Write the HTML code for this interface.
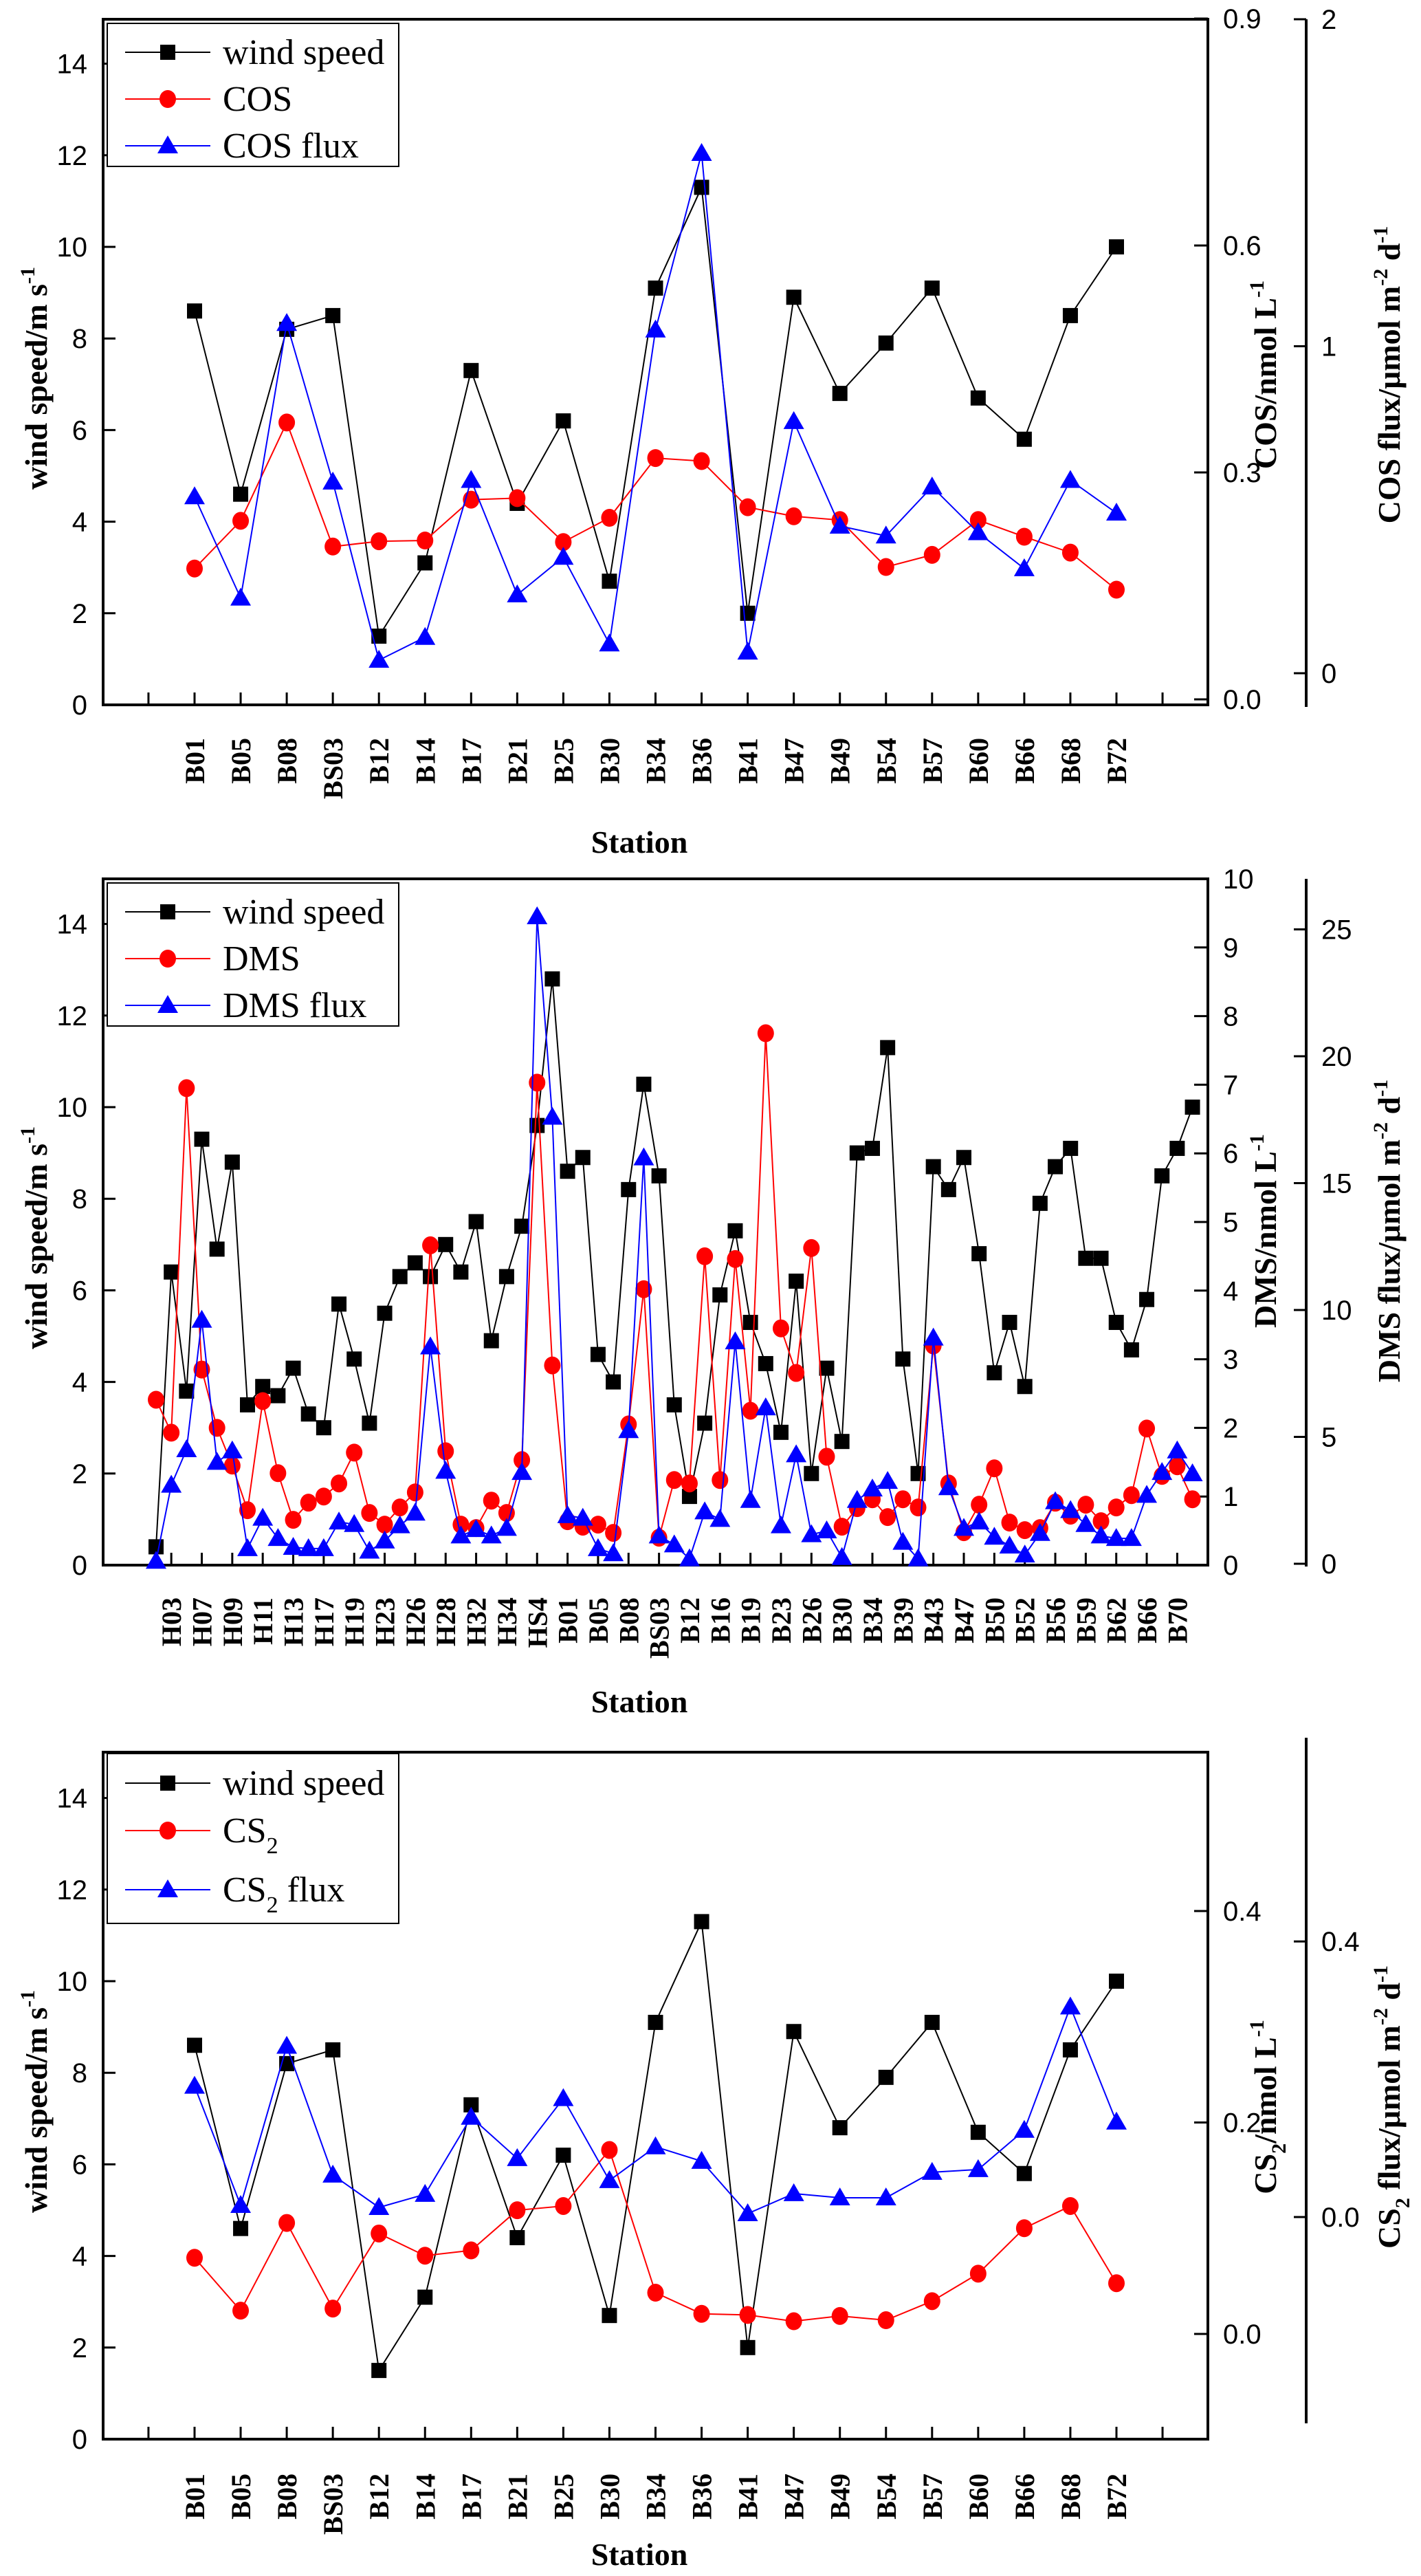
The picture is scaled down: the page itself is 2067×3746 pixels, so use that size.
<!DOCTYPE html>
<html><head><meta charset="utf-8"><style>
html,body{margin:0;padding:0;background:#fff;}
svg{display:block;}
.tk{font-family:"Liberation Sans",sans-serif;font-size:40px;fill:#000;}
.st{font-family:"Liberation Serif",serif;font-size:40px;font-weight:bold;fill:#000;}
.ti{font-family:"Liberation Serif",serif;font-size:46px;font-weight:bold;fill:#000;}
.lg{font-family:"Liberation Serif",serif;font-size:52px;fill:#000;}
</style></head><body>
<svg id="chart" width="2067" height="3746" viewBox="0 0 2067 3746" xmlns="http://www.w3.org/2000/svg"></svg>
<script>
// ---- Panel 1 / 3 data ----
const stationsA = ["B01","B05","B08","BS03","B12","B14","B17","B21","B25","B30","B34","B36","B41","B47","B49","B54","B57","B60","B66","B68","B72"];
const windA = [8.6,4.6,8.2,8.5,1.5,3.1,7.3,4.4,6.2,2.7,9.1,11.3,2.0,8.9,6.8,7.9,9.1,6.7,5.8,8.5,10.0];
const cosVals = [0.173,0.236,0.366,0.202,0.209,0.21,0.264,0.266,0.208,0.24,0.319,0.315,0.254,0.242,0.237,0.175,0.191,0.237,0.215,0.194,0.145];
const cosFlux = [0.54,0.23,1.07,0.585,0.04,0.11,0.59,0.24,0.355,0.09,1.05,1.59,0.065,0.77,0.45,0.42,0.57,0.43,0.32,0.59,0.49];
const cs2Vals = [0.072,0.022,0.105,0.024,0.095,0.074,0.079,0.117,0.121,0.174,0.039,0.019,0.018,0.012,0.017,0.013,0.031,0.057,0.1,0.121,0.048];
const cs2Flux = [0.19,0.017,0.248,0.061,0.014,0.033,0.145,0.085,0.172,0.053,0.102,0.081,0.005,0.034,0.028,0.028,0.065,0.069,0.126,0.305,0.138];
// ---- Panel 2 data ----
const stationsB = ["","H03","","H07","","H09","","H11","","H13","","H17","","H19","","H23","","H26","","H28","","H32","","H34","","HS4","","B01","","B05","","B08","","BS03","","B12","","B16","","B19","","B23","","B26","","B30","","B34","","B39","","B43","","B47","","B50","","B52","","B56","","B59","","B62","","B66","","B70",""];
const windB = [0.4,6.4,3.8,9.3,6.9,8.8,3.5,3.9,3.7,4.3,3.3,3.0,5.7,4.5,3.1,5.5,6.3,6.6,6.3,7.0,6.4,7.5,4.9,6.3,7.4,9.6,12.8,8.6,8.9,4.6,4.0,8.2,10.5,8.5,3.5,1.5,3.1,5.9,7.3,5.3,4.4,2.9,6.2,2.0,4.3,2.7,9.0,9.1,11.3,4.5,2.0,8.7,8.2,8.9,6.8,4.2,5.3,3.9,7.9,8.7,9.1,6.7,6.7,5.3,4.7,5.8,8.5,9.1,10.0];
const dmsVals = [2.41,1.93,6.95,2.85,2.0,1.45,0.8,2.39,1.34,0.66,0.91,1.0,1.19,1.64,0.76,0.59,0.84,1.06,4.66,1.66,0.59,0.54,0.94,0.76,1.53,7.03,2.91,0.64,0.56,0.59,0.47,2.05,4.02,0.4,1.24,1.19,4.5,1.24,4.46,2.25,7.75,3.45,2.8,4.62,1.58,0.56,0.83,0.96,0.7,0.96,0.84,3.2,1.19,0.48,0.88,1.41,0.62,0.51,0.54,0.91,0.72,0.88,0.64,0.84,1.02,1.99,1.3,1.44,0.96];
const dmsFlux = [0.1,3.1,4.5,9.6,4.0,4.45,0.6,1.8,1.0,0.65,0.6,0.6,1.65,1.55,0.5,0.9,1.5,2.0,8.55,3.65,1.1,1.35,1.1,1.4,3.6,25.5,17.6,1.9,1.8,0.6,0.4,5.25,16.0,1.1,0.75,0.2,2.05,1.75,8.75,2.5,6.15,1.5,4.3,1.15,1.3,0.25,2.5,2.95,3.25,0.85,0.2,8.9,3.0,1.4,1.65,1.05,0.7,0.35,1.2,2.45,2.1,1.55,1.1,1.0,1.0,2.7,3.6,4.45,3.55];
const windTicks = [0,2,4,6,8,10,12,14];

const NS="http://www.w3.org/2000/svg";
const svg=document.getElementById('chart');
function el(tag,attrs,parent){const e=document.createElementNS(NS,tag);for(const k in attrs)e.setAttribute(k,attrs[k]);(parent||svg).appendChild(e);return e;}
function line(g,x1,y1,x2,y2,st,w){return el('line',{x1:x1,y1:y1,x2:x2,y2:y2,stroke:st,'stroke-width':w},g);}
function txt(g,x,y,s,cls,anchor,tr){const t=el('text',{x:x,y:y,class:cls,'text-anchor':anchor||'start'},g);if(tr)t.setAttribute('transform',tr);t.textContent=s;return t;}
function marker(g,type,x,y){
  if(type==='sq')return el('rect',{x:x-11,y:y-11,width:22,height:22,fill:'#000'},g);
  if(type==='ci')return el('ellipse',{cx:x,cy:y,rx:12,ry:13,fill:'#f00'},g);
  return el('polygon',{points:`${x},${y-15} ${x-15},${y+11} ${x+15},${y+11}`,fill:'#00f'},g);
}
function series(g,name,xs,vals,ymap,color,type){
  const s=el('g',{},g);
  
  
  const pts=vals.map((v,i)=>xs(i)+','+ymap(v)).join(' ');
  el('polyline',{points:pts,fill:'none',stroke:color,'stroke-width':2},s);
  vals.forEach((v,i)=>{const m=marker(s,type,xs(i),ymap(v));
    
    });
}
function richTitle(g,x,y,parts,cls){
  const t=el('text',{x:x,y:y,class:cls,'text-anchor':'middle',transform:`rotate(-90 ${x} ${y})`},g);
  parts.forEach(p=>{const s=el('tspan',{},t);if(p[1])s.setAttribute('dy',p[1]);if(p[2])s.setAttribute('font-size',p[2]);s.textContent=p[0];});
  return t;
}
function panel(cfg){
  const g=el('g',{});
  
  
  const L=150,R=1757,T=cfg.top,B=cfg.bottom;
  const wy=v=>cfg.w0-v*66.6;
  // frame
  el('rect',{x:L,y:T,width:R-L,height:B-T,fill:'none',stroke:'#000','stroke-width':4},g);
  // left ticks
  windTicks.forEach(t=>{line(g,L,wy(t),L+18,wy(t),'#000',3);txt(g,127,wy(t)+14,String(t),'tk','end');});
  // x ticks & labels
  cfg.xticks.forEach(i=>line(g,cfg.xs(i),B,cfg.xs(i),B-18,'#000',3));
  cfg.labels.forEach((s,i)=>{if(!s)return;const x=cfg.xs(i)+14,y=cfg.labY;txt(g,x,y,s,'st','end',`rotate(-90 ${x} ${y})`);});
  // right axis 1
  cfg.r1ticks.forEach(t=>{const y=cfg.r1(t);line(g,R,y,R-20,y,'#000',3);txt(g,1779,y+14,cfg.r1fmt(t),'tk','start');});
  // right axis 2
  line(g,1900,cfg.a2top,1900,cfg.a2bot,'#000',4);
  cfg.r2ticks.forEach(t=>{const y=cfg.r2(t);line(g,1900,y,1882,y,'#000',3);txt(g,1922,y+14,cfg.r2fmt(t),'tk','start');});
  // titles
  const lt=richTitle(g,68,cfg.ltY,[['wind speed/m s'],['-1','-18','30']],'ti');
  
  
  const r1=richTitle(g,1856,cfg.rtY,cfg.r1title,'ti');
  
  
  const r2=richTitle(g,2036,cfg.rtY,cfg.r2title,'ti');
  
  
  const xt=txt(g,930,cfg.statY,'Station','ti','middle');
  
  
  // series
  series(g,'wind-speed-series',cfg.xs,cfg.wind,wy,'#000','sq');
  series(g,cfg.cname+'-series',cfg.xs,cfg.conc,cfg.r1,'#f00','ci');
  series(g,cfg.cname+'-flux-series',cfg.xs,cfg.flux,cfg.r2,'#00f','tr');
  // legend
  const lg=el('g',{},g);
  
  
  el('rect',{x:156,y:cfg.lgTop,width:424,height:cfg.lgH,fill:'#fff',stroke:'#000','stroke-width':2},lg);
  const cols=['#000','#f00','#00f'],types=['sq','ci','tr'];
  cfg.lgY.forEach((y,k)=>{
    line(lg,182,y,306,y,cols[k],2);marker(lg,types[k],244,y);
    const t=el('text',{x:324,y:y+17,class:'lg'},lg);
    
    
    cfg.lgText[k].forEach(p=>{const s=el('tspan',{},t);if(p[1])s.setAttribute('dy',p[1]);if(p[2])s.setAttribute('font-size',p[2]);s.textContent=p[0];});
  });
}
const xsA=i=>283+67.05*i;
const idxA=[-1,0,1,2,3,4,5,6,7,8,9,10,11,12,13,14,15,16,17,18,19,20,21];
// Panel 1
panel({name:'cos-panel',top:28,bottom:1025,w0:1025,xs:xsA,xticks:idxA,labels:stationsA,labY:1073,
  wind:windA,conc:cosVals,flux:cosFlux,cname:'cos',
  r1:v=>1017-v*1100,r1ticks:[0,0.3,0.6,0.9],r1fmt:t=>t.toFixed(1),
  r2:v=>979-v*475.5,r2ticks:[0,1,2],r2fmt:t=>String(t),a2top:28,a2bot:1028,
  ltY:550,rtY:545,statY:1240,
  r1title:[['COS/nmol L'],['-1','-18','30']],
  r2title:[['COS flux/μmol m'],['-2','-18','30'],[' d','18'],['-1','-18','30']],
  lgTop:34,lgH:208,lgY:[76,144,212],
  lgText:[[['wind speed']],[['COS']],[['COS flux']]]});
// Panel 2
const xsB=i=>227+22.17*i;
const idxB=stationsB.map((s,i)=>i).filter(i=>i%2===1);
panel({name:'dms-panel',top:1278,bottom:2276,w0:2276,xs:xsB,xticks:idxB,labels:stationsB,labY:2323,
  wind:windB,conc:dmsVals,flux:dmsFlux,cname:'dms',
  r1:v=>2276-v*99.8,r1ticks:[0,1,2,3,4,5,6,7,8,9,10],r1fmt:t=>String(t),
  r2:v=>2274-v*36.9,r2ticks:[0,5,10,15,20,25],r2fmt:t=>String(t),a2top:1278,a2bot:2278,
  ltY:1800,rtY:1790,statY:2490,
  r1title:[['DMS/nmol L'],['-1','-18','30']],
  r2title:[['DMS flux/μmol m'],['-2','-18','30'],[' d','18'],['-1','-18','30']],
  lgTop:1284,lgH:208,lgY:[1326,1394,1462],
  lgText:[[['wind speed']],[['DMS']],[['DMS flux']]]});
// Panel 3
panel({name:'cs2-panel',top:2548,bottom:3547,w0:3547,xs:xsA,xticks:idxA,labels:stationsA,labY:3597,
  wind:windA,conc:cs2Vals,flux:cs2Flux,cname:'cs2',
  r1:v=>3394-v*1537.5,r1ticks:[0,0.2,0.4],r1fmt:t=>t.toFixed(1),
  r2:v=>3224-v*1002,r2ticks:[0,0.4],r2fmt:t=>t.toFixed(1),a2top:2527,a2bot:3524,
  ltY:3056,rtY:3064,statY:3730,
  r1title:[['CS'],['2','14','30'],['/nmol L','-14'],['-1','-18','30']],
  r2title:[['CS'],['2','14','30'],[' flux/μmol m','-14'],['-2','-18','30'],[' d','18'],['-1','-18','30']],
  lgTop:2550,lgH:247,lgY:[2593,2662,2748],
  lgText:[[['wind speed']],[['CS'],['2','16','34']],[['CS'],['2','16','34'],[' flux','-16']]]});
</script>
</body></html>
